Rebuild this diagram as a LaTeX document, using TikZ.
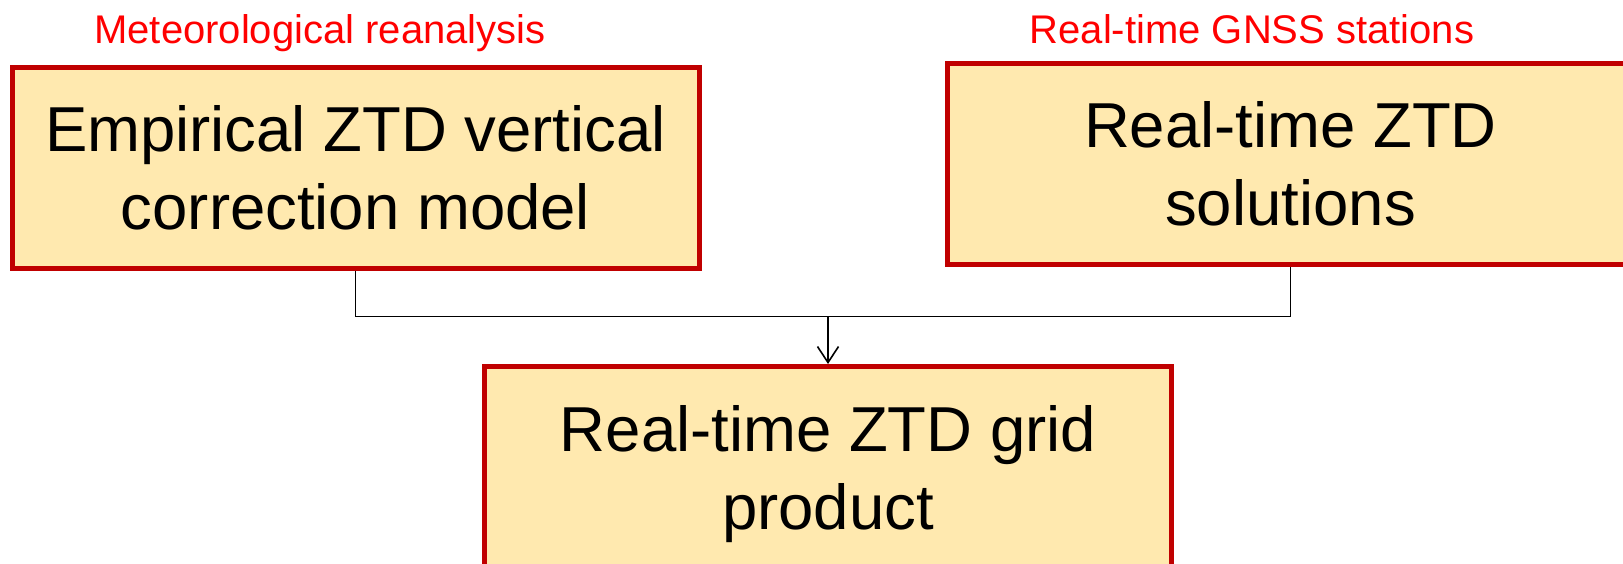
\documentclass[tikz,border=0pt]{standalone}
\usepackage{fontspec}
\setmainfont{Liberation Sans}
\usepackage{tikz}
\usetikzlibrary{positioning,arrows.meta,calc}
\definecolor{boxfill}{HTML}{FFE9AF}
\definecolor{boxline}{HTML}{C00000}
\tikzset{
  zbox/.style={draw=boxline,fill=boxfill,line width=2.5pt,
    minimum width=343.5pt,minimum height=100.5pt,align=center,
    inner sep=0pt,font=\fontsize{31.75}{39}\selectfont},
  srclbl/.style={text=red,inner sep=0pt,anchor=base,
    font=\fontsize{20}{24}\selectfont},
  link/.style={line width=0.8pt,black},
  feed/.style={link,-{Straight Barb[length=8pt,width=10.5pt]}},
}
\begin{document}
\begin{tikzpicture}[x=0.5pt,y=-0.5pt]
  \clip (0,0) rectangle (1623,563);
  \node[zbox] (model) at (355.5,167.5) {Empirical ZTD vertical\\correction model};
  \node[zbox] (rtztd) at (1290.5,164) {Real-time ZTD\\solutions};
  \node[zbox,text depth=0pt] (grid) at (828,467) {Real-time ZTD grid\\product};
  \node[srclbl] (reana) at (320,43) {Meteorological reanalysis};
  \node[srclbl] (gnss) at (1252,43) {Real-time GNSS stations};
  \coordinate (join) at ($(grid.north)+(0,-47.5)$);
  \draw[link] (model.south) |- (join) -| (rtztd.south);
  \draw[feed] (join) -- (grid.north);
\end{tikzpicture}
\end{document}
